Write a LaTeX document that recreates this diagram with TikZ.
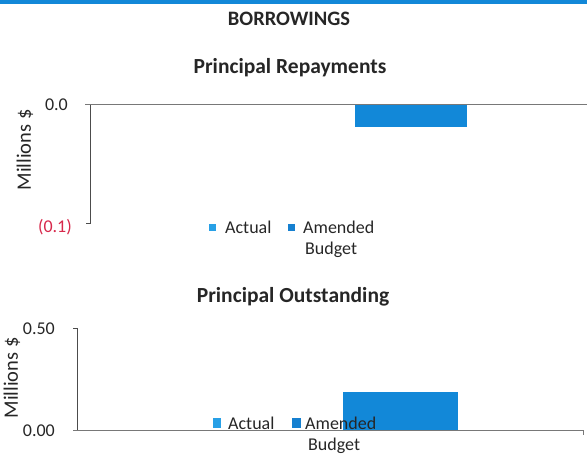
\documentclass[tikz,border=0pt]{standalone}
\usepackage{fontspec}
\setmainfont{Carlito}
\definecolor{barblue}{RGB}{18,136,216}
\definecolor{actblue}{RGB}{40,160,230}
\definecolor{amdblue}{RGB}{22,128,208}
\definecolor{negred}{RGB}{215,40,75}
\definecolor{axisgray}{RGB}{120,120,120}
\tikzset{
  lbl/.style={font=\fontsize{18}{20}\selectfont, text=black!85, inner sep=0pt},
  ttl/.style={font=\bfseries\fontsize{21.5}{24}\selectfont, text=black!85, inner sep=0pt},
  unit/.style={lbl, font=\fontsize{20.5}{22}\selectfont, rotate=90},
  axisline/.style={axisgray, line width=1pt},
  keybox/.style={fill=#1, draw=none}
}
\begin{document}
\begin{tikzpicture}[x=1pt, y=-1pt]

    \useasboundingbox (0,0) rectangle (587,457);
    \fill[barblue] (0,0) rectangle (587,4);

    % Titles
    \node[ttl, font=\bfseries\fontsize{20.5}{23}\selectfont] (head) at (289,19) {BORROWINGS};
    \node[ttl] (titleA) at (290,68) {Principal Repayments};
    \node[ttl] (titleB) at (293,297) {Principal Outstanding};

    % Chart 1: repayments
    \fill[barblue] (355,105) rectangle (467,127);
    \coordinate (a0) at (85,105);
    \coordinate (a1) at (587,105);
    \coordinate (aT) at (90,105);
    \coordinate (aB) at (90,224);
    \coordinate (aK) at (86,224);
	\draw[axisline] (a0) -- (a1);
	\draw[axisline, black!70] (aT) -- (aB) -- (aK);
    \node[lbl, anchor=east] (zeroA) at (68,105) {0.0};
    \node[lbl, anchor=east, text=negred] (lowA) at (72,227) {(0.1)};
    \node[unit] (unitA) at (25,150) {Millions \$};
    \fill[keybox=actblue] (209,224) rectangle (216,231);
    \node[lbl, anchor=west] (actA) at (225,227.5) {Actual};
    \fill[keybox=amdblue] (288,224) rectangle (295,231);
    \node[lbl, anchor=west] (amdA) at (303,227.5) {Amended};
    \node[lbl, anchor=west] (budA) at (305,250) {Budget};

    % Chart 2: outstanding
    \fill[barblue] (343,392) rectangle (458,430);
    \coordinate (b0) at (73,430);
    \coordinate (b1) at (583,430);
    \coordinate (bE) at (583,435);
    \coordinate (bT) at (77,329);
    \coordinate (bK) at (73,329);
    \coordinate (bB) at (77,430);
	\draw[axisline] (b0) -- (b1) -- (bE);
	\draw[axisline, black!70] (bK) -- (bT) -- (bB);
    \node[lbl, anchor=east] (topB) at (55,329) {0.50};
    \node[lbl, anchor=east] (zeroB) at (55,431) {0.00};
    \node[unit] (unitB) at (12,378) {Millions \$};
    \fill[keybox=actblue] (213,418) rectangle (221,428);
    \node[lbl, anchor=west] (actB) at (228,423) {Actual};
    \fill[keybox=amdblue] (292,418) rectangle (301,428);
    \node[lbl, anchor=west] (amdB) at (305,423) {Amended};
    \node[lbl, anchor=west] (budB) at (308,446) {Budget};

\end{tikzpicture}
\end{document}
